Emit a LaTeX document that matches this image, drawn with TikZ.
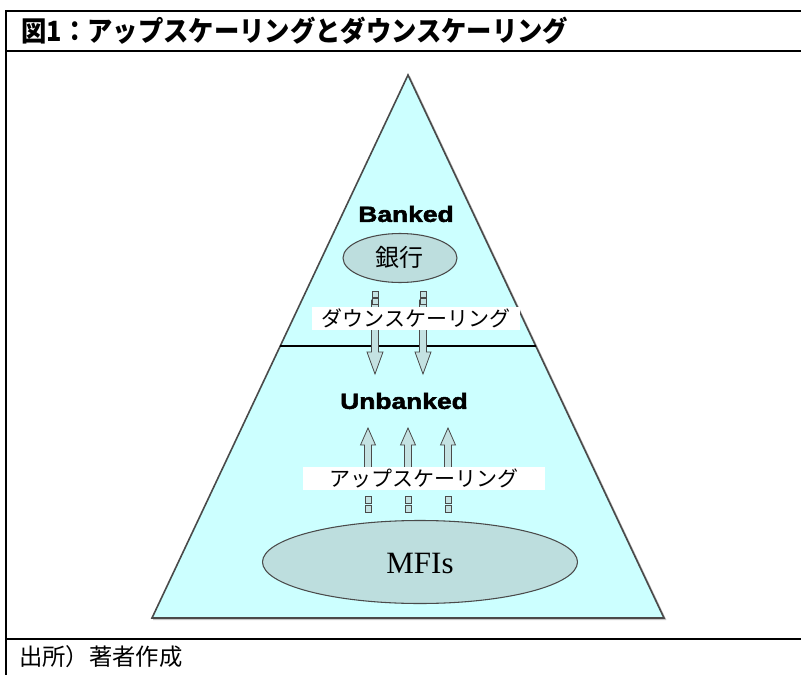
\documentclass[tikz,border=0pt]{standalone}
\usepackage{fontspec}
\usepackage{graphicx}
\setmainfont{Liberation Serif}
\newfontfamily\jp{Noto Sans CJK JP}
\newfontfamily\sansf[BoldFeatures={FakeBold=2}]{Liberation Sans}
\usetikzlibrary{shapes.geometric}
\definecolor{tri}{HTML}{CCFFFF}
\definecolor{ellc}{HTML}{BDDEDE}
\definecolor{arrc}{HTML}{C4E2E2}
\definecolor{edgec}{HTML}{4A4A4A}
\begin{document}
\begin{tikzpicture}[x=0.75pt,y=-0.75pt,
  frameline/.style={line width=1.5pt,black},
  blk/.style={fill=arrc,draw=edgec,line width=0.6pt,line join=miter},
  tailbox/.style={fill=arrc,draw=edgec,line width=0.6pt},
  lbl/.style={fill=white,inner sep=0pt,font=\jp\fontsize{15.75pt}{16pt}\selectfont},
  ovalnode/.style={ellipse,fill=ellc,draw=edgec,line width=0.8pt,inner sep=0pt},
  heavy/.style={font=\sansf\bfseries\fontsize{16.5pt}{17pt}\selectfont,inner sep=0pt}]
\useasboundingbox (0,0) rectangle (801,675);
% frame
\draw[frameline] (801,11) -- (6,11) -- (6,675);
\draw[frameline] (6,51) -- (801,51);
\draw[frameline] (6,639) -- (801,639);
\node[anchor=west,inner sep=0pt,font=\jp\bfseries\fontsize{19pt}{19pt}\selectfont] (title) at (21,31) {\scalebox{1}[1.1]{図1：アップスケーリングとダウンスケーリング}};
\node[anchor=west,inner sep=0pt,font=\jp\fontsize{17.5pt}{18pt}\selectfont] (source) at (19,657) {出所）著者作成};
% pyramid
\coordinate (apex) at (408,75);
\coordinate (bl) at (152,618);
\coordinate (br) at (664,618);
\draw[gray!45,line width=1.2pt] ([shift={(1.2,1.2)}]bl) -- ([shift={(1.2,1.2)}]br) -- ([shift={(1.2,1.2)}]apex);
\draw[fill=tri,draw=edgec,line width=1.2pt,line join=miter] (apex) -- (bl) -- (br) -- cycle;
\path (apex) -- (bl) coordinate[pos=0.4991] (dl);
\path (apex) -- (br) coordinate[pos=0.4991] (dr);
\draw[black,line width=0.8pt] (dl) -- (dr);
% banked
\node[heavy] (banked) at (406,214) {\scalebox{1.2}[1]{Banked}};
\node[ovalnode,minimum width=85.5pt,minimum height=36.75pt] (bank) at (400,258) {};
\node[font=\jp\fontsize{18pt}{18pt}\selectfont,inner sep=0pt] (banktext) at (399,257) {銀行};
% down arrows
\foreach \cx in {375,423}{
  \draw[blk] ({\cx-3.5},300) -- ({\cx-3.5},352) -- ({\cx-8},352) -- (\cx,374) -- ({\cx+8},352) -- ({\cx+3.5},352) -- ({\cx+3.5},300) -- cycle;
  \draw[tailbox] ({\cx-3},291) rectangle ({\cx+3},297);
  \draw[tailbox] ({\cx-3},298) rectangle ({\cx+3},304);
}
\node[lbl,minimum width=156pt,minimum height=17.25pt] (downlbl) at (416,318.5) {ダウンスケーリング};
% unbanked
\node[heavy] (unbanked) at (404,401) {\scalebox{1.2}[1]{Unbanked}};
% up arrows
\foreach \cx in {368,408,448}{
  \draw[blk] ({\cx-3.5},478) -- ({\cx-3.5},445) -- ({\cx-7.5},445) -- (\cx,428) -- ({\cx+7.5},445) -- ({\cx+3.5},445) -- ({\cx+3.5},478) -- cycle;
  \draw[tailbox] ({\cx-3},496) rectangle ({\cx+3},503);
  \draw[tailbox] ({\cx-3},505) rectangle ({\cx+3},512);
}
\node[lbl,minimum width=181.5pt,minimum height=17.25pt] (uplbl) at (424,478.5) {アップスケーリング};
% MFIs
\node[ovalnode,minimum width=236.25pt,minimum height=62.25pt] (mfi) at (420,562) {};
\node[font=\fontsize{23.25pt}{24pt}\selectfont,inner sep=0pt] (mfitext) at (420,563) {MFIs};
\end{tikzpicture}
\end{document}
